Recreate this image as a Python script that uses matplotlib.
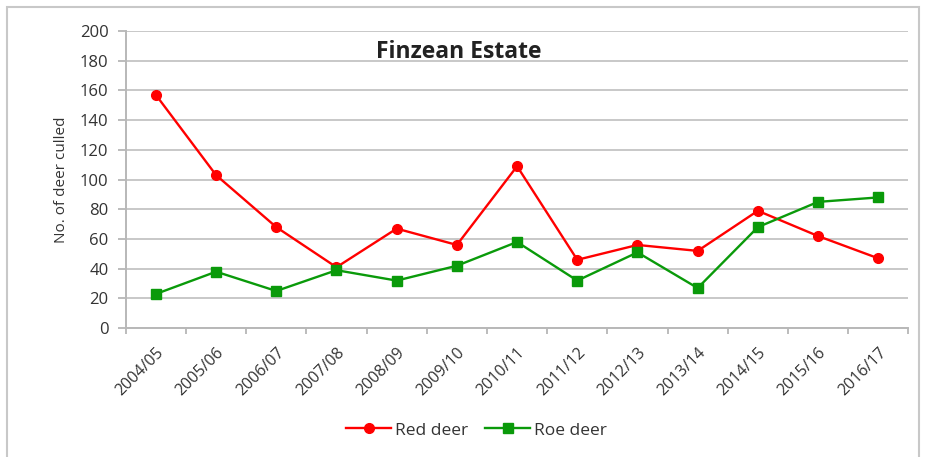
import numpy as np
import matplotlib.pyplot as plt
import matplotlib.transforms as mtransforms
from matplotlib.patches import Rectangle

plt.rcParams['font.family'] = ['Open Sans', 'DejaVu Sans']

seasons = ['2004/05', '2005/06', '2006/07', '2007/08', '2008/09', '2009/10', '2010/11',
           '2011/12', '2012/13', '2013/14', '2014/15', '2015/16', '2016/17']
red_deer = [157, 103, 68, 41, 67, 56, 109, 46, 56, 52, 79, 62, 47]
roe_deer = [23, 38, 25, 39, 32, 42, 58, 32, 51, 27, 68, 85, 88]

fig = plt.figure(figsize=(9.25, 4.57), dpi=100)
ax = fig.add_axes([0.136, 0.282, 0.846, 0.650])

# outer chart border
fig.patches.append(Rectangle((0.008, -0.01), 0.985, 0.995, transform=fig.transFigure,
                             fill=False, ec='#c8c8c8', lw=1.5))

x = np.arange(len(seasons))
ax.plot(x, red_deer, '-o', color='#ff0000', lw=1.7, ms=7, label='Red deer', zorder=3)
ax.plot(x, roe_deer, '-s', color='#0a9a0a', lw=1.7, ms=6.5, label='Roe deer', zorder=3)

ax.set_xlim(-0.5, len(seasons) - 0.5)
ax.set_ylim(0, 200)
ax.set_yticks(range(0, 201, 20))
ax.yaxis.grid(True, color='#c8c8c8', lw=1.4)
ax.set_axisbelow(True)

ax.set_xticks(np.arange(-0.5, len(seasons), 1.0))
ax.set_xticklabels([])
ax.set_xticks(x, minor=True)
ax.set_xticklabels(seasons, minor=True, rotation=45, ha='right', rotation_mode='anchor',
                   fontsize=11.5, color='#333333')
shift = mtransforms.ScaledTranslation(8 / 72, 0, fig.dpi_scale_trans)
for lab in ax.xaxis.get_minorticklabels():
    lab.set_transform(lab.get_transform() + shift)
ax.tick_params(axis='x', which='minor', length=0, pad=12)
ax.tick_params(axis='x', which='major', length=4, color='#b0b0b0', width=1.2)
ax.tick_params(axis='y', length=5.5, color='#b0b0b0', width=1.2, labelsize=12,
               labelcolor='#333333', pad=7)

for s in ['top', 'right']:
    ax.spines[s].set_visible(False)
for s in ['left', 'bottom']:
    ax.spines[s].set_color('#b8b8b8')
    ax.spines[s].set_linewidth(1.4)

ax.set_ylabel('No. of deer culled', fontsize=11, color='#333333', labelpad=8)
ax.text(0.426, 0.93, 'Finzean Estate', transform=ax.transAxes, ha='center', va='center',
        fontsize=16.5, fontweight='bold', color='#222222')

fig.legend(loc='center', bbox_to_anchor=(0.515, 0.058), ncol=2, frameon=False,
           fontsize=12.5, handlelength=2.6, columnspacing=1.0, handletextpad=0.2,
           labelcolor='#333333')

fig.savefig('out.png', dpi=100)
